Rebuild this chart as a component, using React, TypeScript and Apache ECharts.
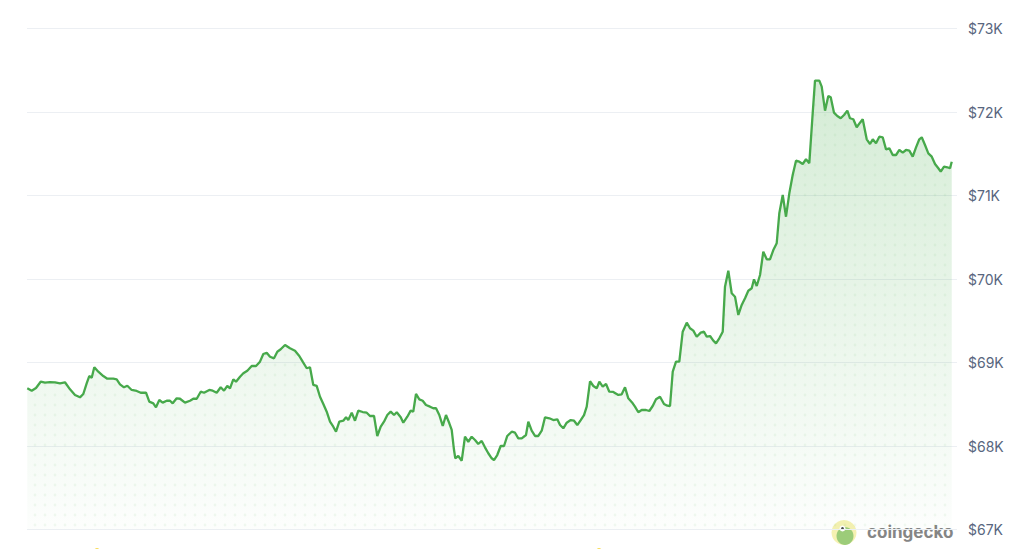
import React, { useEffect, useRef } from "react";
import * as echarts from "echarts";

// Hours since start of the 7-day window, BTC price in USD
const priceHistory: [number, number][] = [
  [0.05,68691],[0.85,68662],[1.63,68695],[2.47,68770],[3.25,68758],[4.15,68766],[5.06,68763],[5.96,68751],[6.86,68763],[7.77,68679],[8.67,68611],[9.57,68583],[10.17,68623],[10.78,68751],[11.25,68838],[11.69,68818],[12.16,68943],[12.88,68890],[13.78,68838],[14.51,68806],[15.59,68806],[16.2,68799],[16.8,68739],[17.52,68703],[18.12,68722],[18.91,68671],[19.82,68659],[20.54,68638],[21.5,68638],[22.09,68531],[22.82,68511],[23.3,68463],[23.9,68551],[24.51,68519],[25.24,68542],[25.83,68542],[26.32,68511],[27.04,68571],[27.64,68566],[28.54,68519],[29.45,68542],[30.04,68566],[30.66,68566],[31.38,68650],[31.98,68638],[32.93,68671],[33.55,68662],[34.27,68638],[34.99,68703],[35.59,68662],[36.18,68719],[36.67,68691],[37.27,68799],[37.76,68770],[38.48,68830],[39.08,68871],[39.8,68902],[40.59,68958],[41.37,68958],[42.09,69010],[42.69,69102],[43.3,69117],[43.9,69069],[44.62,69050],[45.22,69129],[45.83,69158],[46.61,69210],[47.51,69170],[48.41,69141],[49.19,69078],[49.8,69010],[50.53,68931],[51.12,68943],[51.72,68731],[52.33,68719],[52.93,68590],[53.53,68503],[54.14,68411],[54.74,68291],[55.33,68231],[55.82,68171],[56.42,68291],[57.14,68303],[57.63,68344],[58.04,68311],[58.66,68399],[59.25,68303],[59.85,68423],[60.64,68407],[61.37,68399],[61.96,68359],[62.69,68359],[63.28,68120],[63.9,68231],[64.49,68291],[65.09,68371],[65.7,68411],[66.3,68371],[66.79,68404],[67.51,68344],[67.98,68279],[68.7,68351],[69.31,68423],[69.78,68411],[70.27,68623],[70.87,68559],[71.48,68542],[72.08,68491],[72.8,68471],[73.4,68452],[73.89,68452],[74.48,68371],[75.1,68240],[75.69,68371],[76.29,68272],[76.72,68192],[77.14,67952],[77.37,67853],[77.91,67880],[78.53,67824],[79.12,68111],[79.72,68051],[80.33,68111],[80.93,68072],[81.52,68024],[82.14,68060],[82.73,67984],[83.33,67913],[83.94,67853],[84.36,67832],[84.95,67892],[85.57,68000],[86.17,68000],[86.76,68120],[87.56,68171],[88.16,68159],[88.75,68092],[89.37,68092],[90.14,68132],[90.56,68291],[91.17,68183],[91.77,68120],[92.37,68120],[92.98,68183],[93.58,68344],[94.36,68332],[95.08,68311],[95.8,68320],[96.29,68251],[96.88,68212],[97.5,68279],[98.22,68311],[98.82,68303],[99.41,68251],[100.03,68311],[100.62,68371],[101.11,68471],[101.71,68775],[102.31,68719],[102.92,68691],[103.39,68770],[104,68710],[104.6,68743],[105.19,68650],[105.91,68647],[106.82,68611],[107.43,68619],[108.03,68703],[108.62,68571],[109.42,68511],[109.83,68471],[110.43,68404],[111.04,68431],[111.82,68431],[112.42,68419],[113.03,68479],[113.63,68559],[114.35,68590],[115.07,68503],[115.67,68483],[116.16,68479],[116.65,68890],[117.24,69010],[117.84,69010],[118.45,69369],[119.18,69477],[119.77,69410],[120.37,69381],[120.98,69309],[121.71,69357],[122.3,69369],[122.79,69309],[123.39,69317],[123.98,69261],[124.47,69230],[125.06,69290],[125.68,69369],[126.09,69908],[126.69,70099],[127.3,69829],[127.9,69788],[128.5,69569],[129.11,69689],[129.71,69769],[130.3,69860],[130.92,69889],[131.33,69996],[131.82,69916],[132.42,70048],[133.01,70327],[133.63,70236],[134.22,70236],[134.82,70347],[135.43,70428],[135.9,70787],[136.52,71006],[137.11,70746],[137.71,71026],[138.32,71246],[138.92,71417],[139.51,71405],[140.13,71377],[140.72,71434],[141.32,71386],[141.93,71984],[142.35,72375],[143.13,72375],[143.56,72303],[144.16,72016],[144.75,72192],[145.19,72176],[145.78,71992],[146.38,71952],[146.99,71925],[147.59,71964],[148.19,72016],[148.67,71925],[149.27,71913],[149.88,71817],[150.48,71872],[150.97,71913],[151.69,71673],[152.29,71617],[152.78,71673],[153.37,71625],[153.97,71704],[154.58,71697],[155.18,71553],[155.78,71565],[156.39,71485],[156.99,71485],[157.58,71545],[158.2,71513],[158.79,71545],[159.39,71537],[160,71465],[160.6,71577],[161.19,71673],[161.63,71697],[162.22,71605],[162.82,71505],[163.44,71465],[164.03,71377],[164.63,71326],[165.06,71285],[165.66,71345],[166.25,71338],[166.74,71326],[167.05,71405]
];

const yMin = 67000;
const yMax = 73000;
const yStep = 1000;
const windowHours = 168;

function makeDotPattern(): string {
  const c = document.createElement("canvas");
  c.width = 10;
  c.height = 10;
  const ctx = c.getContext("2d");
  if (ctx) {
    ctx.fillStyle = "rgba(76,175,80,0.10)";
    ctx.beginPath();
    ctx.arc(5, 5, 1.4, 0, Math.PI * 2);
    ctx.fill();
  }
  return c.toDataURL();
}

export default function App() {
  const ref = useRef<HTMLDivElement>(null);

  useEffect(() => {
    if (!ref.current) return;
    const chart = echarts.init(ref.current, undefined, { renderer: "svg" });
    const dot = makeDotPattern();
    chart.setOption({
      animation: false,
      backgroundColor: "#ffffff",
      grid: { left: 27, right: 67, top: 28.5, bottom: 19.5, containLabel: false },
      xAxis: {
        type: "value",
        min: 0,
        max: windowHours,
        show: false,
        splitLine: { show: false },
      },
      yAxis: {
        type: "value",
        position: "right",
        min: yMin,
        max: yMax,
        interval: yStep,
        axisLine: { show: false },
        axisTick: { show: false },
        axisLabel: {
          color: "#58667e",
          fontSize: 14,
          fontFamily: "Inter",
          margin: 11,
          formatter: (v: number) => "$" + Math.round(v / 1000) + "K",
        },
        splitLine: { lineStyle: { color: "#eceff3", width: 1 } },
      },
      series: [
        {
          type: "line",
          data: priceHistory,
          showSymbol: false,
          symbol: "none",
          lineStyle: { color: "#47a94b", width: 2.3 },
          areaStyle: {
            origin: "start",
            color: new echarts.graphic.LinearGradient(0, 0, 0, 1, [
              { offset: 0, color: "rgba(76,175,80,0.34)" },
              { offset: 1, color: "rgba(76,175,80,0.02)" },
            ]),
          },
          z: 3,
        },
        {
          type: "line",
          data: priceHistory,
          showSymbol: false,
          symbol: "none",
          lineStyle: { width: 0, opacity: 0 },
          areaStyle: {
            origin: "start",
            color: { image: dot, repeat: "repeat", imageWidth: 10, imageHeight: 10 },
          },
          z: 2,
          silent: true,
        },
      ],
      graphic: [
        { type: "circle", shape: { cx: 97, cy: 551, r: 3 }, style: { fill: "#f7d84a" } },
        { type: "circle", shape: { cx: 599, cy: 551, r: 3 }, style: { fill: "#f7d84a" } },
        {
          type: "group",
          z: 10,
          children: [
            { type: "circle", shape: { cx: 844, cy: 532.5, r: 12.5 }, style: { fill: "#f3eea4", opacity: 0.85 } },
            { type: "ellipse", shape: { cx: 845, cy: 536, rx: 8.5, ry: 9 }, style: { fill: "#8cc56e", opacity: 0.85 } },
            { type: "circle", shape: { cx: 842.5, cy: 528.5, r: 3 }, style: { fill: "#ffffff" } },
            { type: "circle", shape: { cx: 842.5, cy: 528.5, r: 1.4 }, style: { fill: "#4a4a4a" } },
            {
              type: "text",
              x: 867,
              y: 532,
              style: {
                text: "coingecko",
                fill: "#858585",
                font: "bold 17px Inter",
                textVerticalAlign: "middle",
                textAlign: "left",
              },
            },
          ],
        },
      ],
    });
    return () => chart.dispose();
  }, []);

  return (
    <div
      ref={ref}
      style={{ position: "fixed", left: 0, top: 0, width: 1024, height: 549, background: "#fff" }}
    />
  );
}
